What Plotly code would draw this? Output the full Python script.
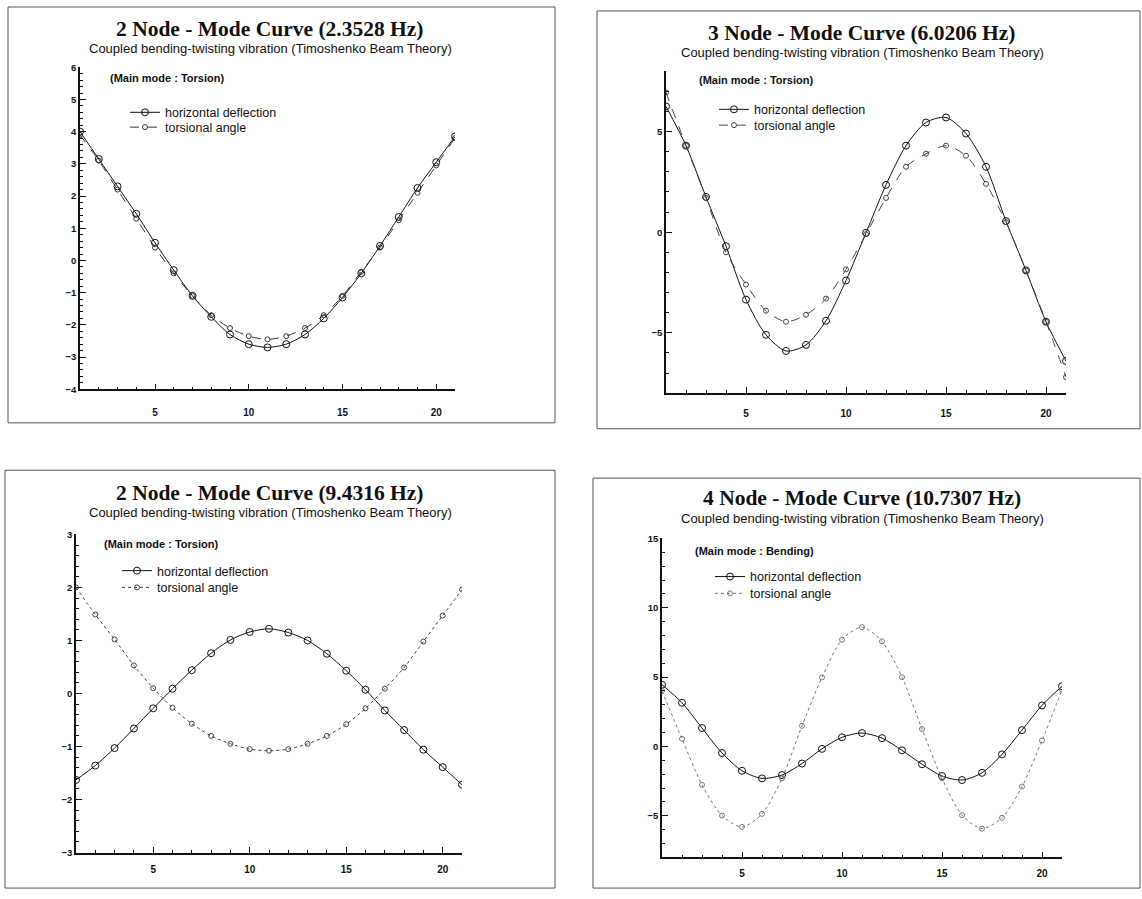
import plotly.graph_objects as go

W, H = 1142, 899

nodes = list(range(1, 22))

# Panel 1: 2 Node - Mode Curve (2.3528 Hz)
p1_hd = [4.0, 3.15, 2.3, 1.45, 0.55, -0.3, -1.1, -1.75, -2.3, -2.6, -2.7,
         -2.6, -2.3, -1.8, -1.15, -0.4, 0.45, 1.35, 2.25, 3.05, 3.85]
p1_ta = [3.9, 3.1, 2.2, 1.3, 0.4, -0.4, -1.1, -1.7, -2.1, -2.35, -2.45,
         -2.35, -2.1, -1.7, -1.1, -0.35, 0.4, 1.25, 2.1, 2.95, 3.8]

# Panel 2: 3 Node - Mode Curve (6.0206 Hz)
p2_hd = [6.25, 4.3, 1.75, -0.7, -3.35, -5.1, -5.9, -5.6, -4.4, -2.4, -0.03,
         2.35, 4.3, 5.45, 5.7, 4.9, 3.25, 0.55, -1.9, -4.45, -6.4]
p2_ta = [6.95, 4.3, 1.7, -1.0, -2.6, -3.9, -4.45, -4.1, -3.3, -1.85, -0.1,
         1.7, 3.25, 3.9, 4.3, 3.8, 2.4, 0.5, -1.9, -4.45, -7.2]

# Panel 3: 2 Node - Mode Curve (9.4316 Hz)
p3_hd = [-1.63, -1.36, -1.03, -0.66, -0.28, 0.09, 0.44, 0.76, 1.01, 1.16, 1.22,
         1.15, 1.0, 0.75, 0.43, 0.07, -0.32, -0.69, -1.06, -1.39, -1.72]
p3_ta = [2.0, 1.49, 1.02, 0.53, 0.1, -0.27, -0.57, -0.8, -0.95, -1.05, -1.08,
         -1.05, -0.95, -0.8, -0.58, -0.28, 0.09, 0.49, 0.98, 1.47, 1.96]

# Panel 4: 4 Node - Mode Curve (10.7307 Hz)
p4_hd = [4.45, 3.15, 1.33, -0.47, -1.75, -2.3, -2.06, -1.23, -0.17, 0.66, 0.97,
         0.6, -0.28, -1.28, -2.13, -2.42, -1.9, -0.57, 1.18, 2.96, 4.34]
p4_ta = [4.0, 0.55, -2.77, -4.98, -5.8, -4.86, -2.3, 1.49, 4.98, 7.7, 8.6,
         7.58, 5.0, 1.26, -2.3, -4.95, -5.92, -5.14, -2.89, 0.43, 4.1]

titles = ["2 Node - Mode Curve (2.3528 Hz)", "3 Node - Mode Curve (6.0206 Hz)",
          "2 Node - Mode Curve (9.4316 Hz)", "4 Node - Mode Curve (10.7307 Hz)"]
subtitle = "Coupled bending-twisting vibration (Timoshenko Beam Theory)"
main_modes = ["(Main mode : Torsion)", "(Main mode : Torsion)",
              "(Main mode : Torsion)", "(Main mode : Bending)"]
series_names = ["horizontal deflection", "torsional angle"]
x_ticks = [5, 10, 15, 20]

hd_data = [p1_hd, p2_hd, p3_hd, p4_hd]
ta_data = [p1_ta, p2_ta, p3_ta, p4_ta]

# layout in pixels (left, right, top, bottom) of the plot area
plot_px = [(80, 455, 62, 388), (666, 1066, 66, 392), (76, 462, 535, 857), (662, 1062, 539, 862)]
y_ranges = [[-4, 6], [-8, 8], [-3, 3], [-8, 15]]
y_ticks = [[-4, -3, -2, -1, 0, 1, 2, 3, 4, 5, 6], [-5, 0, 5], [-3, -2, -1, 0, 1, 2, 3], [-5, 0, 5, 10, 15]]
y_minor = [0.2, 1, 0.2, 1]
x_standoff = [13, 10, 7, 6]
borders = [(8, 1, 555, 422), (597, 5, 1140, 428), (5, 470, 555, 893), (593, 478, 1140, 893)]
title_pos = [(270, 23, 43), (862, 27, 47), (270, 493, 513), (862, 498, 519)]
mode_pos = [(108, 73), (697, 75), (102, 545), (693, 552)]
legend_pos = [(125, 108, 123), (714, 105, 121), (117, 572, 589), (710, 578, 595)]
ta_dash = ["dash", "dash", "dot", "dot"]
ta_color = ["#333", "#444", "#444", "#777"]


def px_x(p):
    return p / W


def px_y(p):
    return 1 - p / H


fig = go.Figure()
layout = {}
annotations = []
shapes = []

for i in range(4):
    n = i + 1
    xa = "x" if n == 1 else f"x{n}"
    ya = "y" if n == 1 else f"y{n}"
    lg_a = "legend" if n == 1 else f"legend{2 * i + 1}"
    lg_b = f"legend{2 * i + 2}"
    l, r, t, b = plot_px[i]
    fig.add_trace(go.Scatter(
        x=nodes, y=hd_data[i], name=series_names[0], mode="lines+markers",
        line=dict(color="#111", width=1, shape="spline", smoothing=0.8),
        marker=dict(symbol="circle-open", size=7, color="#111", line=dict(width=1)),
        xaxis=xa, yaxis=ya, legend=lg_a, showlegend=True))
    fig.add_trace(go.Scatter(
        x=nodes, y=ta_data[i], name=series_names[1], mode="lines+markers",
        line=dict(color=ta_color[i], width=1, dash=ta_dash[i], shape="spline", smoothing=0.8),
        marker=dict(symbol="circle-open", size=5, color=ta_color[i], line=dict(width=1)),
        xaxis=xa, yaxis=ya, legend=lg_b, showlegend=True))

    key_x = "xaxis" if n == 1 else f"xaxis{n}"
    key_y = "yaxis" if n == 1 else f"yaxis{n}"
    layout[key_x] = dict(
        domain=[px_x(l), px_x(r)], range=[1, 21], anchor=ya,
        tickvals=x_ticks, ticks="inside", ticklen=6, tickwidth=1, tickcolor="#111",
        minor=dict(dtick=1, ticks="inside", ticklen=3, tickcolor="#111"),
        showline=True, linecolor="#111", linewidth=1.5, showgrid=False, zeroline=False,
        ticklabelstandoff=x_standoff[i],
        tickfont=dict(family="Liberation Sans", size=10, color="#111", weight="bold"))
    layout[key_y] = dict(
        domain=[px_y(b), px_y(t)], range=y_ranges[i], anchor=xa,
        tickvals=y_ticks[i], ticks="inside", ticklen=6, tickwidth=1, tickcolor="#111",
        minor=dict(dtick=y_minor[i], ticks="inside", ticklen=3, tickcolor="#111"),
        showline=True, linecolor="#111", linewidth=1.5, showgrid=False, zeroline=False,
        tickfont=dict(family="Liberation Sans", size=9.5, color="#111", weight="bold"))

    # legends (one entry each, for precise spacing)
    lx, ly1, ly2 = legend_pos[i]
    for lg, ly in ((lg_a, ly1), (lg_b, ly2)):
        layout[lg] = dict(x=px_x(lx), y=px_y(ly), xanchor="left", yanchor="middle",
                          bgcolor="rgba(0,0,0,0)", borderwidth=0, visible=True,
                          font=dict(family="Liberation Sans", size=12.5, color="#111"),
                          itemwidth=30, tracegroupgap=0)

    cx, ty, sy = title_pos[i]
    annotations.append(dict(
        x=px_x(cx), y=px_y(ty), xref="paper", yref="paper", text=titles[i],
        showarrow=False, xanchor="center", yanchor="middle",
        font=dict(family="Liberation Serif", size=21.5, color="#111", weight="bold")))
    annotations.append(dict(
        x=px_x(cx), y=px_y(sy), xref="paper", yref="paper", text=subtitle,
        showarrow=False, xanchor="center", yanchor="middle",
        font=dict(family="Liberation Sans", size=13, color="#111")))
    mx, my = mode_pos[i]
    annotations.append(dict(
        x=px_x(mx), y=px_y(my), xref="paper", yref="paper", text=main_modes[i],
        showarrow=False, xanchor="left", yanchor="middle",
        font=dict(family="Liberation Sans", size=11, color="#111", weight="bold")))

    bx0, by0, bx1, by1 = borders[i]
    shapes.append(dict(type="rect", xref="paper", yref="paper",
                       x0=px_x(bx0), x1=px_x(bx1), y0=px_y(by1), y1=px_y(by0),
                       line=dict(color="#555", width=1)))

fig.update_layout(
    width=W, height=H, margin=dict(l=0, r=0, t=0, b=0),
    paper_bgcolor="white", plot_bgcolor="white", showlegend=True,
    annotations=annotations, shapes=shapes, **layout)

fig.write_html("out.html", config={"displayModeBar": False},
               post_script="document.body.style.margin='0';document.body.style.padding='0';")
